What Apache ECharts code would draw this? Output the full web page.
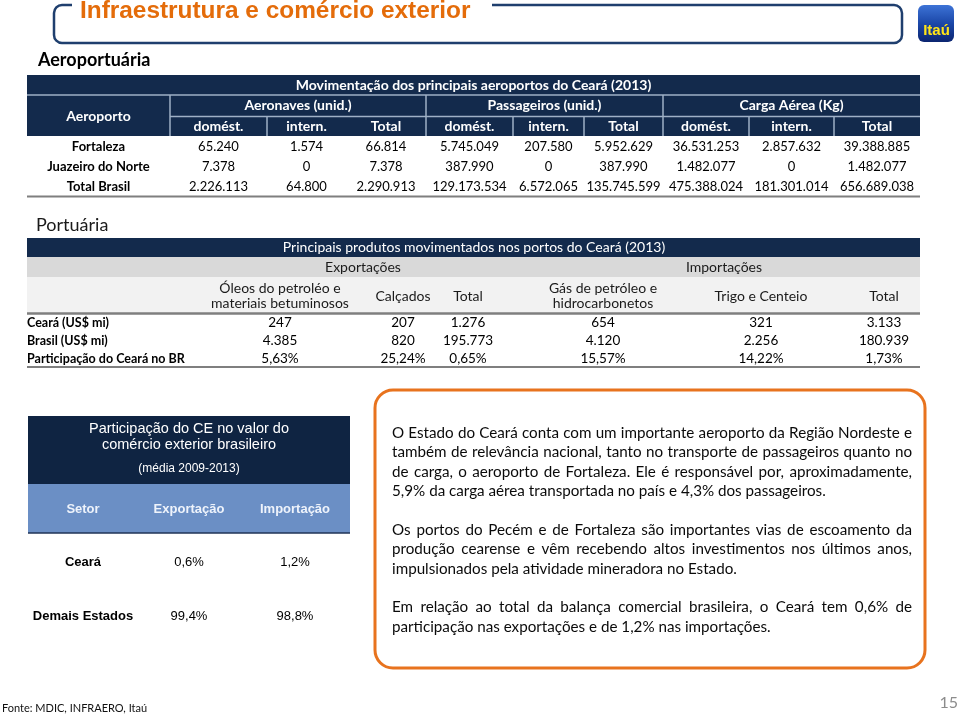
<!DOCTYPE html>
<html><head><meta charset="utf-8">
<script src="https://cdn.jsdelivr.net/npm/echarts@6/dist/echarts.min.js"></script>
<style>html,body{margin:0;padding:0;background:#fff}#c{width:960px;height:715px}</style>
</head><body><div id="c"></div>
<script>
// ---------------- DATA ----------------
const pageTitle = 'Infraestrutura e comércio exterior';
const section1 = 'Aeroportuária';
const section2 = 'Portuária';
const table1Title = 'Movimentação dos principais aeroportos do Ceará (2013)';
const table1Groups = ['Aeronaves (unid.)', 'Passageiros (unid.)', 'Carga Aérea (Kg)'];
const table1Sub = ['domést.', 'intern.', 'Total'];
const airports = ['Fortaleza', 'Juazeiro do Norte', 'Total Brasil'];
const aeronavesDomest = [65240, 7378, 2226113];
const aeronavesIntern = [1574, 0, 64800];
const aeronavesTotal = [66814, 7378, 2290913];
const passageirosDomest = [5745049, 387990, 129173534];
const passageirosIntern = [207580, 0, 6572065];
const passageirosTotal = [5952629, 387990, 135745599];
const cargaDomest = [36531253, 1482077, 475388024];
const cargaIntern = [2857632, 0, 181301014];
const cargaTotal = [39388885, 1482077, 656689038];

const table2Title = 'Principais produtos movimentados nos portos do Ceará (2013)';
const table2Groups = ['Exportações', 'Importações'];
const table2Products = ['Óleos do petroléo e\nmateriais betuminosos', 'Calçados', 'Total', 'Gás de petróleo e\nhidrocarbonetos', 'Trigo e Centeio', 'Total'];
const portRows = ['Ceará (US$ mi)', 'Brasil (US$ mi)', 'Participação do Ceará no BR'];
const cearaUSD = [247, 207, 1276, 654, 321, 3133];
const brasilUSD = [4385, 820, 195773, 4120, 2256, 180939];
const participacaoBR = [5.63, 25.24, 0.65, 15.57, 14.22, 1.73];

const table3Title = ['Participação do CE no valor do', 'comércio exterior brasileiro'];
const table3Sub = '(média 2009-2013)';
const table3Head = ['Setor', 'Exportação', 'Importação'];
const setores = ['Ceará', 'Demais Estados'];
const exportShare = [0.6, 99.4];
const importShare = [1.2, 98.8];

const bodyParagraphs = [
  ['O Estado do Ceará conta com um importante aeroporto da Região Nordeste e',
   'também de relevância nacional, tanto no transporte de passageiros quanto no',
   'de carga, o aeroporto de Fortaleza. Ele é responsável por, aproximadamente,',
   '5,9% da carga aérea transportada no país e 4,3% dos passageiros.'],
  ['Os portos do Pecém e de Fortaleza são importantes vias de escoamento da',
   'produção cearense e vêm recebendo altos investimentos nos últimos anos,',
   'impulsionados pela atividade mineradora no Estado.'],
  ['Em relação ao total da balança comercial brasileira, o Ceará tem 0,6% de',
   'participação nas exportações e de 1,2% nas importações.']
];
const sourceNote = 'Fonte: MDIC, INFRAERO, Itaú';
const pageNumber = '15';
const logoText = 'Itaú';

// ---------------- HELPERS ----------------
function fmtInt(n) { return String(n).replace(/\B(?=(\d{3})+(?!\d))/g, '.'); }
function fmtPct(v, d) { return v.toFixed(d).replace('.', ',') + '%'; }

const CAL = 'Lato, "Open Sans", sans-serif';
const ARI = '"Liberation Sans", Arial, sans-serif';
const NAVY = '#132a4c';
const SEP = '#9fb0c6';
const els = [];
function txt(x, y, t, o) {
  o = o || {};
  const al = o.align || 'center';
  const va = o.va || 'middle';
  const st = { text: t, fill: o.fill || '#000', font: o.font,
      align: al, verticalAlign: va, textAlign: al, textVerticalAlign: va };
  if (o.lh) st.lineHeight = o.lh;
  els.push({ type: 'text', x: x, y: y, silent: true, z: 10, style: st });
}
function rect(x, y, w, h, fill, o) {
  o = o || {};
  els.push({ type: 'rect', silent: true, z: o.z || 1, shape: { x: x, y: y, width: w, height: h, r: o.r || 0 },
    style: { fill: fill, stroke: o.stroke || null, lineWidth: o.lw || 0 } });
}
function line(x1, y1, x2, y2, stroke, lw) {
  els.push({ type: 'line', silent: true, z: 5, shape: { x1: x1, y1: y1, x2: x2, y2: y2 },
    style: { stroke: stroke, lineWidth: lw } });
}

// ---------------- PAGE HEADER ----------------
rect(54, 5, 848, 38, null, { stroke: '#1f3f6e', lw: 2.5, r: 8, z: 2 });
rect(72, 0, 420, 10, '#fff', { z: 3 });
txt(80, 11, pageTitle, { align: 'left', fill: '#e46c0a', font: 'bold 24.4px ' + ARI });
els.push({ type: 'rect', silent: true, z: 2, shape: { x: 918, y: 5, width: 36, height: 37, r: 6 },
  style: { fill: { type: 'linear', x: 0, y: 0, x2: 0, y2: 1, colorStops: [{ offset: 0, color: '#3d73d6' }, { offset: 0.5, color: '#1b47a8' }, { offset: 1, color: '#0b2570' }] } } });
txt(936.5, 31, logoText, { fill: '#ffe417', font: 'bold 15px ' + ARI });

// ---------------- TABLE 1 ----------------
txt(38, 60, section1, { align: 'left', font: 'bold 18px ' + CAL });
const e1 = [27, 170, 267, 346, 426, 513, 584, 663, 749, 834, 920];
rect(27, 75, 893, 61, NAVY);
const H1 = 'bold 14px ' + CAL;
txt((27 + 920) / 2, 85.5, table1Title, { fill: '#fff', font: H1 });
line(27, 95, 920, 95, SEP, 1.5);
line(170, 116.5, 920, 116.5, SEP, 1.5);
[170, 426, 663].forEach(function (x) { line(x, 95, x, 136, SEP, 1.5); });
[267, 513, 584, 749, 834].forEach(function (x) { line(x, 116.5, x, 136, SEP, 1.5); });
txt((e1[0] + e1[1]) / 2, 116, 'Aeroporto', { fill: '#fff', font: H1 });
table1Groups.forEach(function (g, i) {
  txt((e1[1 + i * 3] + e1[4 + i * 3]) / 2, 105.5, g, { fill: '#fff', font: H1 });
  table1Sub.forEach(function (s, j) {
    const c = 1 + i * 3 + j;
    txt((e1[c] + e1[c + 1]) / 2, 126.5, s, { fill: '#fff', font: H1 });
  });
});
const t1cols = [aeronavesDomest, aeronavesIntern, aeronavesTotal, passageirosDomest, passageirosIntern, passageirosTotal, cargaDomest, cargaIntern, cargaTotal];
const t1rowY = [147, 167, 187];
airports.forEach(function (a, r) {
  txt((e1[0] + e1[1]) / 2, t1rowY[r], a, { font: 'bold 13px ' + CAL });
  t1cols.forEach(function (col, c) {
    txt((e1[c + 1] + e1[c + 2]) / 2, t1rowY[r], fmtInt(col[r]), { font: '13px ' + CAL });
  });
});
line(27, 196.5, 920, 196.5, '#7f7f7f', 2);

// ---------------- TABLE 2 ----------------
txt(36, 225, section2, { align: 'left', fill: '#1a1a1a', font: '18px ' + CAL });
rect(27, 238, 893, 19, NAVY);
txt(474, 247.5, table2Title, { fill: '#fff', font: '14px ' + CAL });
rect(27, 257, 893, 20, '#d9d9d9');
rect(27, 277, 893, 36, '#f2f2f2');
const t2x = [280, 403, 468, 603, 761, 884];
txt(363, 267, table2Groups[0], { fill: '#1a1a1a', font: '14px ' + CAL });
txt(724, 267, table2Groups[1], { fill: '#1a1a1a', font: '14px ' + CAL });
table2Products.forEach(function (p, i) {
  txt(t2x[i], 296, p, { fill: '#1a1a1a', font: '14px ' + CAL, lh: 15.5 });
});
line(27, 313.5, 920, 313.5, '#7f7f7f', 2.5);
const t2rows = [cearaUSD.map(fmtInt), brasilUSD.map(fmtInt), participacaoBR.map(function (v) { return fmtPct(v, 2); })];
const t2rowY = [323, 341, 359];
portRows.forEach(function (rl, r) {
  txt(27, t2rowY[r], rl, { align: 'left', font: 'bold 12.5px ' + CAL });
  t2rows[r].forEach(function (v, c) { txt(t2x[c], t2rowY[r], v, { font: '13.5px ' + CAL }); });
});
line(27, 367, 920, 367, '#7f7f7f', 2);

// ---------------- TABLE 3 ----------------
rect(28, 416, 322, 68, '#0f2442');
txt(189, 429, table3Title[0], { fill: '#fff', font: '14.5px ' + ARI });
txt(189, 445, table3Title[1], { fill: '#fff', font: '14.5px ' + ARI });
txt(189, 469, table3Sub, { fill: '#fff', font: '12px ' + ARI });
rect(28, 484, 322, 49, '#6b8fc5');
line(28, 533, 350, 533, '#1f3356', 1.5);
const t3x = [83, 189, 295];
table3Head.forEach(function (h, i) { txt(t3x[i], 509, h, { fill: '#eef3fb', font: 'bold 13px ' + ARI }); });
const t3rowY = [562, 616];
setores.forEach(function (s, r) {
  txt(t3x[0], t3rowY[r], s, { font: 'bold 13px ' + ARI });
  txt(t3x[1], t3rowY[r], fmtPct(exportShare[r], 1), { font: '13px ' + ARI });
  txt(t3x[2], t3rowY[r], fmtPct(importShare[r], 1), { font: '13px ' + ARI });
});

// ---------------- TEXT BOX ----------------
rect(375, 390, 550, 278, null, { stroke: '#e8731e', lw: 3, r: 18, z: 2 });
const BODY = '15.2px ' + CAL;
const mctx = document.createElement('canvas').getContext('2d');
let ly = 433;
const LH = 19.4, BX = 392, BW = 520;
bodyParagraphs.forEach(function (para) {
  para.forEach(function (ln, k) {
    const last = k === para.length - 1;
    if (last) {
      txt(BX, ly, ln, { align: 'left', font: BODY, fill: '#0a0a0a' });
    } else {
      mctx.font = BODY;
      const words = ln.split(' ');
      const ws = words.map(function (w) { return mctx.measureText(w).width; });
      const tot = ws.reduce(function (a, b) { return a + b; }, 0);
      const gap = (BW - tot) / (words.length - 1);
      let x = BX;
      words.forEach(function (w, i) { txt(x, ly, w, { align: 'left', font: BODY, fill: '#0a0a0a' }); x += ws[i] + gap; });
    }
    ly += LH;
  });
  ly += LH;
});

// ---------------- FOOTER ----------------
txt(2, 708, sourceNote, { align: 'left', font: '11px ' + CAL, fill: '#111' });
txt(958, 703, pageNumber, { align: 'right', font: '16px ' + CAL, fill: '#8c8c8c' });

const chart = echarts.init(document.getElementById('c'), null, { renderer: 'canvas' });
chart.setOption({ backgroundColor: '#fff', animation: false, graphic: els });
</script>
</body></html>
